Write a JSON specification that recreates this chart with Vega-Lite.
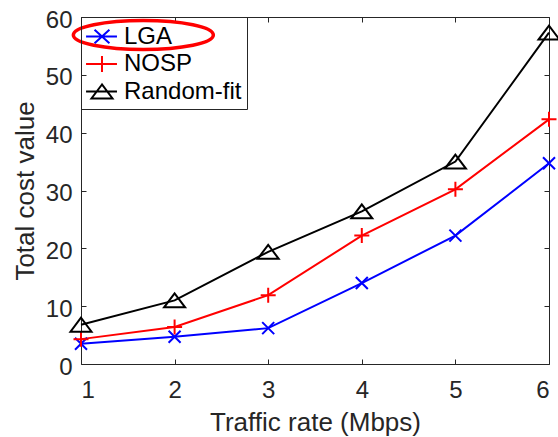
{
  "$schema": "https://vega.github.io/schema/vega-lite/v6.json",
  "width": 468,
  "height": 347,
  "autosize": {"type": "none"},
  "padding": {"left": 81, "top": 17, "right": 9, "bottom": 73},
  "background": "white",
  "config": {
    "font": "Liberation Sans",
    "view": {"stroke": "#262626", "strokeWidth": 1},
    "axis": {
      "domain": false,
      "grid": false,
      "tickColor": "#262626",
      "tickSize": -5,
      "tickWidth": 1,
      "labelFont": "Liberation Sans",
      "labelFontSize": 24,
      "labelColor": "#262626",
      "titleFont": "Liberation Sans",
      "titleFontSize": 26,
      "titleFontWeight": "normal",
      "titleColor": "#262626"
    },
    "legend": {
      "orient": "top-left",
      "offset": 0,
      "padding": 5,
      "strokeColor": "#262626",
      "fillColor": "transparent",
      "labelFont": "Liberation Sans",
      "labelFontSize": 24,
      "labelColor": "#000000",
      "labelOffset": 9,
      "symbolSize": 729,
      "symbolStrokeWidth": 2,
      "rowPadding": 0.5
    }
  },
  "datasets": {
    "series": [
      {"rate": 1, "method": "LGA", "cost": 3.5},
      {"rate": 2, "method": "LGA", "cost": 4.7},
      {"rate": 3, "method": "LGA", "cost": 6.2},
      {"rate": 4, "method": "LGA", "cost": 14.0},
      {"rate": 5, "method": "LGA", "cost": 22.2},
      {"rate": 6, "method": "LGA", "cost": 34.7},
      {"rate": 1, "method": "NOSP", "cost": 4.3},
      {"rate": 2, "method": "NOSP", "cost": 6.4},
      {"rate": 3, "method": "NOSP", "cost": 11.9},
      {"rate": 4, "method": "NOSP", "cost": 22.2},
      {"rate": 5, "method": "NOSP", "cost": 30.2},
      {"rate": 6, "method": "NOSP", "cost": 42.3},
      {"rate": 1, "method": "Random-fit", "cost": 6.8},
      {"rate": 2, "method": "Random-fit", "cost": 11.0},
      {"rate": 3, "method": "Random-fit", "cost": 19.4},
      {"rate": 4, "method": "Random-fit", "cost": 26.4},
      {"rate": 5, "method": "Random-fit", "cost": 35.0},
      {"rate": 6, "method": "Random-fit", "cost": 57.3}
    ],
    "note": [{"rate": 1.666, "cost": 56.9}]
  },
  "layer": [
    {
      "data": {"name": "series"},
      "mark": {"type": "line", "strokeWidth": 2, "clip": false},
      "encoding": {
        "x": {
          "field": "rate", "type": "quantitative",
          "scale": {"domain": [1, 6], "nice": false},
          "axis": {"orient": "bottom", "values": [1, 2, 3, 4, 5, 6], "title": "Traffic rate (Mbps)", "labelPadding": 19, "titleBaseline": "alphabetic", "titleY": 66}
        },
        "y": {
          "field": "cost", "type": "quantitative",
          "scale": {"domain": [0, 60], "nice": false},
          "axis": {"orient": "left", "values": [0, 10, 20, 30, 40, 50, 60], "title": "Total cost value", "labelPadding": 14, "labelOffset": 3, "titleBaseline": "alphabetic", "titleX": -48}
        },
        "color": {
          "field": "method", "type": "nominal",
          "scale": {"domain": ["LGA", "NOSP", "Random-fit"], "range": ["#0000ff", "#ff0000", "#000000"]},
          "legend": {
            "title": null,
            "encode": {
              "symbols": {
                "update": {
                  "shape": {"signal": "datum.value === 'LGA' ? 'M-1.07,0H1.22M-0.44,-0.5L0.66,0.5M-0.44,0.5L0.66,-0.5' : datum.value === 'NOSP' ? 'M-1.07,0H1.22M0.11,-0.6V0.6' : 'M-1.07,0H1.22M0.11,-0.52L-0.67,0.52L0.89,0.52Z'"},
                  "fill": {"value": "transparent"},
                  "strokeWidth": {"value": 2},
                  "opacity": {"value": 1}
                }
              }
            }
          }
        }
      }
    },
    {
      "data": {"name": "series"},
      "transform": [{"filter": "datum.method === 'LGA'"}],
      "mark": {"type": "point", "filled": false, "size": 225, "strokeWidth": 2, "opacity": 1, "clip": false, "stroke": "#0000ff", "shape": "M-0.8,-0.8L0.8,0.8M-0.8,0.8L0.8,-0.8"},
      "encoding": {
        "x": {
          "field": "rate", "type": "quantitative",
          "scale": {"domain": [1, 6], "nice": false},
          "axis": {"orient": "top", "values": [1, 2, 3, 4, 5, 6], "labels": false, "title": null}
        },
        "y": {
          "field": "cost", "type": "quantitative",
          "scale": {"domain": [0, 60], "nice": false},
          "axis": {"orient": "right", "values": [0, 10, 20, 30, 40, 50, 60], "labels": false, "title": null}
        }
      }
    },
    {
      "data": {"name": "series"},
      "transform": [{"filter": "datum.method === 'NOSP'"}],
      "mark": {"type": "point", "filled": false, "size": 225, "strokeWidth": 2, "opacity": 1, "clip": false, "stroke": "#ff0000", "shape": "M-1,0H1M0,-1V1"},
      "encoding": {
        "x": {"field": "rate", "type": "quantitative", "scale": {"domain": [1, 6], "nice": false}, "axis": null},
        "y": {"field": "cost", "type": "quantitative", "scale": {"domain": [0, 60], "nice": false}, "axis": null}
      }
    },
    {
      "data": {"name": "series"},
      "transform": [{"filter": "datum.method === 'Random-fit'"}],
      "mark": {"type": "point", "filled": false, "size": 225, "strokeWidth": 2, "opacity": 1, "clip": false, "stroke": "#000000", "shape": "M0,-0.93L-1.4,0.93L1.4,0.93Z"},
      "encoding": {
        "x": {"field": "rate", "type": "quantitative", "scale": {"domain": [1, 6], "nice": false}, "axis": null},
        "y": {"field": "cost", "type": "quantitative", "scale": {"domain": [0, 60], "nice": false}, "axis": null}
      }
    },
    {
      "data": {"name": "note"},
      "mark": {"type": "point", "filled": false, "size": 19600, "stroke": "#ff0000", "strokeWidth": 3.5, "opacity": 1, "clip": false, "shape": "M-1,0A1,0.207,0,1,1,1,0A1,0.207,0,1,1,-1,0Z"},
      "encoding": {
        "x": {"field": "rate", "type": "quantitative", "scale": {"domain": [1, 6], "nice": false}, "axis": null},
        "y": {"field": "cost", "type": "quantitative", "scale": {"domain": [0, 60], "nice": false}, "axis": null}
      }
    }
  ],
  "resolve": {"scale": {"x": "independent", "y": "independent"}}
}
